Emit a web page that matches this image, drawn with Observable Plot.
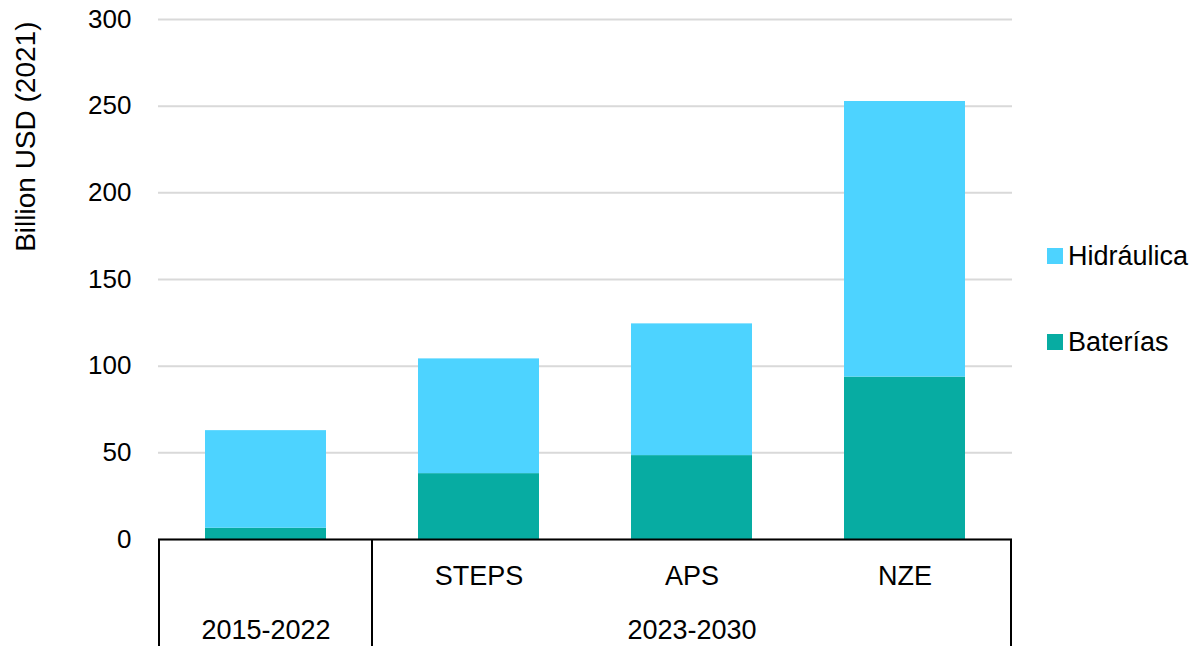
<!DOCTYPE html>
<html>
<head>
<meta charset="utf-8">
<script src="https://cdn.jsdelivr.net/npm/d3@7"></script>
<script src="https://cdn.jsdelivr.net/npm/@observablehq/plot@0.6"></script>
<style>
  body { margin: 0; background: #fff; font-family: "Liberation Sans", Arial, sans-serif; }
  #chart { position: relative; width: 1196px; height: 646px; overflow: hidden; }
  .legend { position: absolute; left: 1047px; top: 240px; font-size: 27px; color: #000; line-height: 32px; }
  .legend .item { display: flex; align-items: center; height: 32px; margin-bottom: 54px; }
  .legend .swatch { width: 16px; height: 16px; margin-right: 5px; }
</style>
</head>
<body>
<div id="chart"></div>
<script>
// Investment categories along the x axis and their labels
const categories = ["2015-2022", "STEPS", "APS", "NZE"];
const tickLabels = ["", "STEPS", "APS", "NZE"];
// Period header row: label and the category it is centred under
const periods = ["2015-2022", "2023-2030"];
const periodAnchors = ["2015-2022", "APS"];
const periodStarts = ["2015-2022", "STEPS"];

// Series (billion USD 2021)
const series = ["Hidráulica", "Baterías"];
const colors = ["#4dd3ff", "#07aca2"];
const baterias = [6.5, 38, 48.4, 93.7];
const hidraulica = [56.3, 66.2, 76, 159];
const yTicks = [0, 50, 100, 150, 200, 250, 300];

// Long table: batteries first so they stack at the bottom
const rows = categories.flatMap((c, i) => [
  {cat: c, serie: "Baterías", value: baterias[i]},
  {cat: c, serie: "Hidráulica", value: hidraulica[i]}
]);

const W = 1196, H = 646, mT = 19, mB = 107, mL = 158, mR = 184;

const plot = Plot.plot({
  width: W,
  height: H,
  marginTop: mT,
  marginBottom: mB,
  marginLeft: mL,
  marginRight: mR,
  style: {fontFamily: '"Liberation Sans", Arial, sans-serif', fontSize: "26px", color: "#000", background: "#fff", overflow: "visible"},
  x: {domain: categories, paddingInner: 0.43, paddingOuter: 0.215, axis: null},
  y: {domain: [0, 300], axis: null},
  color: {domain: series, range: colors},
  marks: [
    Plot.gridY(yTicks, {stroke: "#d9d9d9", strokeOpacity: 1, strokeWidth: 2}),
    Plot.axisY(yTicks, {tickSize: 0, tickPadding: 27, label: null, fontSize: 26}),
    Plot.barY(rows, {x: "cat", y: "value", fill: "serie"}),
    Plot.ruleY([0], {stroke: "#000", strokeWidth: 2}),
    Plot.text(categories, {x: d => d, text: (d, i) => tickLabels[i], frameAnchor: "bottom", dy: 45, fontSize: 27, fill: "#000"}),
    Plot.text(periods, {x: (d, i) => periodAnchors[i], text: d => d, frameAnchor: "bottom", dy: 99, fontSize: 27, fill: "#000"}),
    Plot.text(["Billion USD (2021)"], {frameAnchor: "top-left", rotate: -90, textAnchor: "end", dx: -143, dy: 2, fontSize: 28, fill: "#000"})
  ]
});

// Vertical dividers of the category table below the baseline
const xs = plot.scale("x");
const gap = (xs.step - xs.bandwidth) / 2;
const bounds = periodStarts.map(c => xs.apply(c) - gap);
bounds.push(xs.apply(categories[categories.length - 1]) + xs.bandwidth + gap);
d3.select(plot).append("g")
  .selectAll("line").data(bounds).join("line")
  .attr("x1", d => d).attr("x2", d => d)
  .attr("y1", H - mB).attr("y2", H)
  .attr("stroke", "#000").attr("stroke-width", 2);

const chart = document.getElementById("chart");
chart.append(plot);

// Legend on the right
const legend = document.createElement("div");
legend.className = "legend";
series.forEach((s, i) => {
  const item = document.createElement("div");
  item.className = "item";
  const sw = document.createElement("span");
  sw.className = "swatch";
  sw.style.background = colors[i];
  const label = document.createElement("span");
  label.textContent = s;
  item.append(sw, label);
  legend.append(item);
});
chart.append(legend);
</script>
</body>
</html>
